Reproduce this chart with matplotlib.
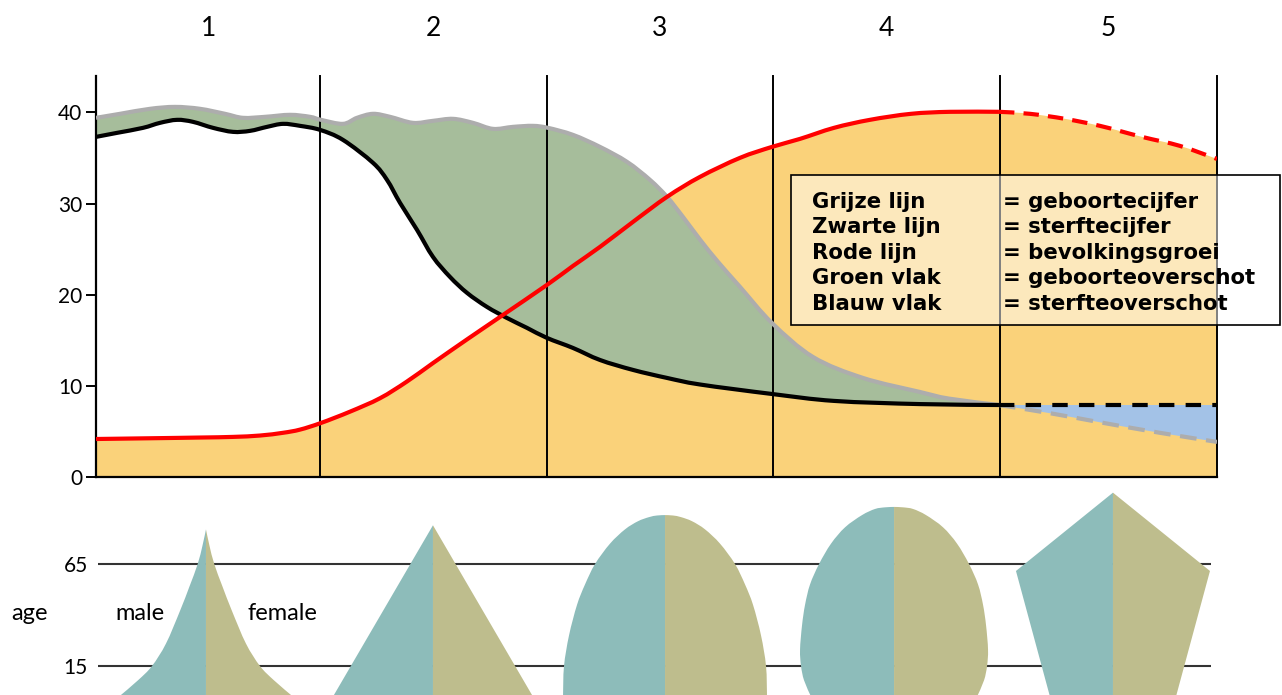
import matplotlib.pyplot as plt
import numpy as np
from matplotlib.patches import Rectangle, PathPatch
from matplotlib.path import Path

plt.rcParams['font.family'] = ['Lato', 'DejaVu Sans']

# time axis runs 0-100 over the five stages
stage_edges = [0, 20, 40.2, 60.4, 80.6, 100]
stage_names = ['1', '2', '3', '4', '5']

# birth rate (grey line)
birth_x = [0, 2.14, 4.82, 7.05, 9.28, 11.51, 13.11, 15.08, 17.31, 19.09,
           20.07, 22.03, 23.28, 24.71, 26.23, 28.28, 30.06, 31.85, 33.63, 35.41,
           37.2, 38.98, 40.32, 42.55, 44.96, 47.37, 49.42, 50.94, 52.36, 53.88,
           55.49, 57.45, 60.3, 63.96, 68.42, 73.5, 76.09, 80.55]
birth_y = [39.41, 39.85, 40.40, 40.61, 40.40, 39.85, 39.41, 39.52, 39.74, 39.52,
           39.19, 38.75, 39.41, 39.85, 39.52, 38.86, 39.08, 39.30, 38.86, 38.20,
           38.42, 38.53, 38.31, 37.54, 36.22, 34.58, 32.60, 30.74, 28.54, 26.05,
           23.6, 20.86, 16.9, 13.17, 10.87, 9.33, 8.6, 7.90]
birth_future_x = [80.55, 85.1, 89.8, 94.9, 100]
birth_future_y = [7.9, 7.0, 5.95, 4.85, 3.85]

# death rate (black line)
death_x = [0, 1.87, 4.19, 5.71, 7.23, 8.65, 10.44, 12.22, 13.74, 15.26,
           16.68, 18.2, 19.98, 22.03, 24.71, 25.96, 27.12, 28.64, 30.06, 31.58,
           33.1, 34.88, 36.66, 38.45, 40.23, 42.55, 44.96, 47.9, 50.94, 53.88,
           60.3, 65.83, 73.5, 80.55]
death_y = [37.32, 37.76, 38.31, 38.86, 39.19, 38.97, 38.31, 37.87, 37.98, 38.42,
           38.75, 38.53, 38.09, 36.99, 34.47, 32.60, 30.08, 27.11, 24.15, 21.95,
           20.20, 18.66, 17.45, 16.36, 15.26, 14.16, 12.84, 11.75, 10.87, 10.15,
           9.11, 8.35, 8.0, 7.90]
death_future_x = [80.55, 100]
death_future_y = [7.9, 7.9]

# population (red line)
pop_x = [0, 4.82, 9.28, 12.22, 14.63, 16.68, 18.2, 20.07, 22.66, 25.33,
         27.72, 30.06, 33.1, 36.04, 40.23, 42.55, 44.96, 47.9, 50.94, 53.88,
         57.45, 60.3, 62.8, 65.83, 69.04, 72.7, 76.18, 80.55]
pop_y = [4.17, 4.25, 4.33, 4.40, 4.55, 4.85, 5.20, 5.93, 7.17, 8.64,
         10.46, 12.5, 15.1, 17.56, 21.08, 23.16, 25.25, 27.99, 30.74, 32.93,
         35.02, 36.22, 37.10, 38.31, 39.19, 39.85, 40.07, 40.07]
pop_future_x = [80.55, 83.32, 86.44, 89.56, 93.31, 96.7, 100]
pop_future_y = [40.07, 39.85, 39.30, 38.53, 37.32, 36.33, 34.9]

legend_left = ['Grijze lijn', 'Zwarte lijn', 'Rode lijn', 'Groen vlak', 'Blauw vlak']
legend_right = ['= geboortecijfer', '= sterftecijfer', '= bevolkingsgroei',
                '= geboorteoverschot', '= sterfteoverschot']

# population pyramids: age and half width (share per sex) for each stage
pyr_ages = [
    [0, 8, 15, 26, 42, 54, 65, 74, 82],
    [0, 84],
    [0, 15, 30, 45, 55, 65, 75, 82, 86, 88, 88.8, 89],
    [0, 8, 15, 23, 35, 45, 55, 65, 75, 83, 89, 92, 92.8, 93],
    [0, 61.6, 100],
]
pyr_widths = [
    [87, 68, 54, 40, 26, 16.5, 8.3, 3.5, 0],
    [100, 0],
    [102, 101, 96, 88, 80, 70, 55, 40, 27, 16, 8, 0],
    [83, 90, 93, 94, 92, 89, 84, 75, 63, 49, 32, 19, 9, 0],
    [63, 97, 0],
]
pyr_smooth = [True, False, True, True, False]
pyr_centers = [9.81, 30.06, 50.76, 71.19, 90.72]
width_scale = 11.21

orange = '#FAD27A'
green = '#A6BD9B'
blue = '#A3C2E7'
grey = '#ADADAD'
red = '#FF0000'
teal = '#8DBCBA'
khaki = '#BEBD8D'


def bezier_through(xs, ys, smooth=True):
    # cubic bezier segments passing through every point (catmull-rom)
    p = np.column_stack([xs, ys]).astype(float)
    n = len(p)
    verts, codes = [], []
    for i in range(n - 1):
        if smooth:
            p0 = p[max(i - 1, 0)]
            p3 = p[min(i + 2, n - 1)]
            verts += [p[i] + (p[i + 1] - p0) / 6, p[i + 1] - (p3 - p[i]) / 6, p[i + 1]]
            codes += [Path.CURVE4] * 3
        else:
            verts.append(p[i + 1])
            codes.append(Path.LINETO)
    return verts, codes


def curve(ax, xs, ys, **kw):
    v, c = bezier_through(xs, ys)
    path = Path([(xs[0], ys[0])] + v, [Path.MOVETO] + c)
    ax.add_patch(PathPatch(path, fill=False, joinstyle='round', **kw))


def area(ax, ux, uy, lx, ly, smooth=True, **kw):
    # region between an upper outline (forward) and lower outline (backward)
    v1, c1 = bezier_through(ux, uy, smooth)
    v2, c2 = bezier_through(lx, ly, smooth)
    verts = [(ux[0], uy[0])] + v1 + [(lx[0], ly[0])] + v2 + [(ux[0], uy[0])]
    codes = [Path.MOVETO] + c1 + [Path.LINETO] + c2 + [Path.CLOSEPOLY]
    ax.add_patch(PathPatch(Path(verts, codes), lw=0, **kw))


fig = plt.figure(figsize=(12.82, 6.95), dpi=100)

# ---- top chart ----
ax = fig.add_axes([96/1282, 218/695, 1121/1282, 401/695])
ax.set_xlim(0, 100)
ax.set_ylim(0, 44)
ax.patch.set_alpha(0)

all_pop_x = list(pop_x) + list(pop_future_x[1:])
all_pop_y = list(pop_y) + list(pop_future_y[1:])
area(ax, all_pop_x, all_pop_y, [all_pop_x[-1], all_pop_x[0]], [0, 0],
     facecolor=orange, zorder=1)
area(ax, birth_x, birth_y, death_x[::-1], death_y[::-1], facecolor=green, zorder=1.5)
area(ax, death_future_x, death_future_y, birth_future_x[::-1], birth_future_y[::-1],
     facecolor=blue, zorder=1.5)

for e in stage_edges[1:]:
    ax.axvline(e, color='black', lw=1.4, clip_on=False, zorder=2)

curve(ax, birth_x, birth_y, edgecolor=grey, lw=3, zorder=3)
curve(ax, birth_future_x, birth_future_y, edgecolor=grey, lw=3, linestyle=(0, (4, 2.3)), zorder=3)
curve(ax, death_x, death_y, edgecolor='black', lw=3, zorder=3)
curve(ax, death_future_x, death_future_y, edgecolor='black', lw=3, linestyle=(0, (3.7, 2.7)), zorder=3)
curve(ax, pop_x, pop_y, edgecolor=red, lw=3, zorder=3)
curve(ax, pop_future_x, pop_future_y, edgecolor=red, lw=3, linestyle=(0, (3.7, 2.2)), zorder=3)

for sp in ['top', 'right']:
    ax.spines[sp].set_visible(False)
ax.spines['left'].set_linewidth(1.6)
ax.spines['bottom'].set_linewidth(1.6)
ax.set_xticks([])
ax.set_yticks([0, 10, 20, 30, 40])
ax.tick_params(axis='y', length=7, width=1.4, pad=3, labelsize=15)

for i, name in enumerate(stage_names):
    mid = (stage_edges[i] + stage_edges[i + 1]) / 2
    ax.text(mid, 48.4, name, ha='center', va='baseline', fontsize=19, clip_on=False)

ax.add_patch(Rectangle((62.0, 16.7), 43.6, 16.45, facecolor=(1, 1, 1, 0.5),
                       edgecolor='black', lw=1.2, clip_on=False, zorder=5))
for i in range(len(legend_left)):
    yy = 29.56 - i * 2.81
    ax.text(63.9, yy, legend_left[i], fontsize=15.3, fontweight='bold',
            family='DejaVu Sans', va='baseline', zorder=6, clip_on=False)
    ax.text(80.9, yy, legend_right[i], fontsize=15.3, fontweight='bold',
            family='DejaVu Sans', va='baseline', zorder=6, clip_on=False)

# ---- pyramids ----
bx = fig.add_axes([96/1282, 0, 1121/1282, 215/695])
bx.set_xlim(0, 100)
bx.set_ylim(0.8, 106.2)
bx.patch.set_alpha(0)
for sp in bx.spines.values():
    sp.set_visible(False)
bx.set_xticks([])
bx.set_yticks([15, 65])
bx.tick_params(axis='y', length=0, pad=6, labelsize=15)
bx.hlines([65, 15], 0.2, 99.5, colors='#333333', lw=1.5, zorder=1)

for c, ages, widths, sm in zip(pyr_centers, pyr_ages, pyr_widths, pyr_smooth):
    w = np.array(widths) / width_scale
    top, bottom = ages[-1], ages[0]
    area(bx, c - w, ages, [c, c], [top, bottom], smooth=sm, facecolor=teal, zorder=2)
    area(bx, c + w, ages, [c, c], [top, bottom], smooth=sm, facecolor=khaki, zorder=2)

bx.text(-5.9, 37.5, 'age', ha='center', va='baseline', fontsize=17, clip_on=False)
bx.text(3.93, 37.5, 'male', ha='center', va='baseline', fontsize=17)
bx.text(16.6, 37.5, 'female', ha='center', va='baseline', fontsize=17)

fig.savefig('out.png', dpi=100)
